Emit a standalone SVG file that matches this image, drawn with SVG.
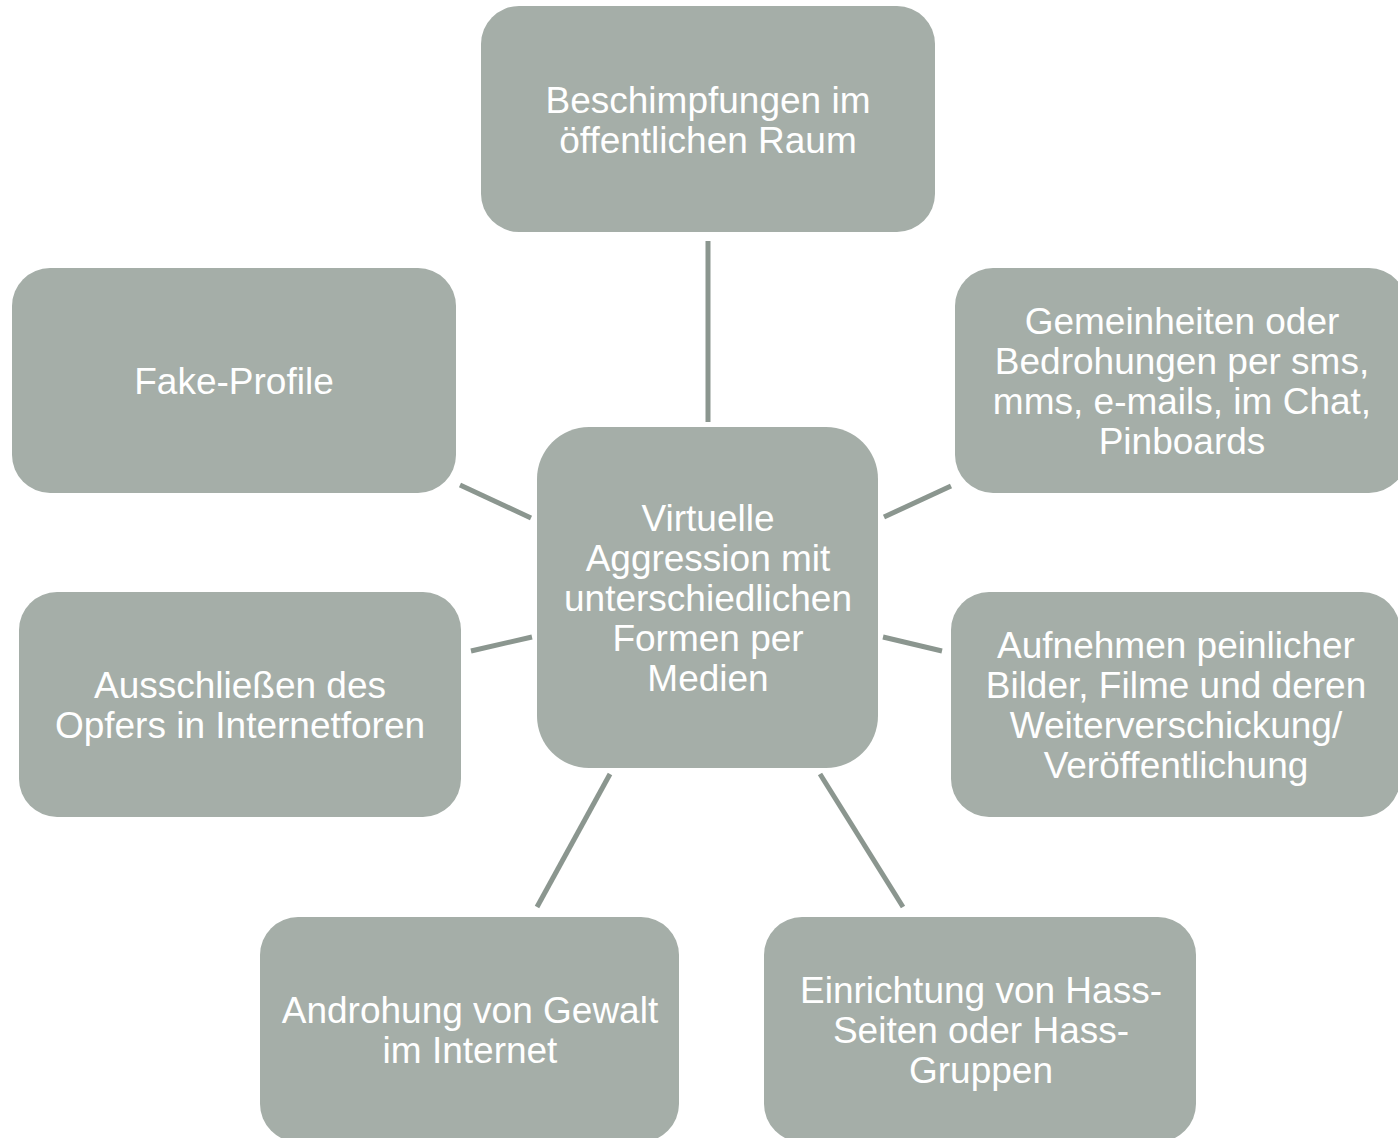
<svg xmlns="http://www.w3.org/2000/svg" width="1398" height="1138" viewBox="0 0 1398 1138">
<style>
.box{fill:#a5aea8;}
.lbl{font-family:"Liberation Sans",Arial,sans-serif;font-size:37px;fill:#ffffff;text-anchor:middle;}
.conn line{stroke:#8b968f;stroke-width:5;}
</style>
<rect width="1398" height="1138" fill="#ffffff"/>
<g id="connectors" class="conn">
<line x1="708" y1="241" x2="708" y2="422"/>
<line x1="460" y1="485" x2="531" y2="518"/>
<line x1="884" y1="517" x2="951" y2="486"/>
<line x1="471" y1="651" x2="532" y2="637"/>
<line x1="883" y1="637" x2="942" y2="651"/>
<line x1="610" y1="774" x2="537" y2="907"/>
<line x1="820" y1="774" x2="903" y2="907"/>
</g>
<g id="center">
<rect class="box" x="537" y="427" width="341" height="341" rx="52"/>
<text class="lbl" x="708" y="531">Virtuelle</text>
<text class="lbl" x="708" y="571">Aggression mit</text>
<text class="lbl" x="708" y="611">unterschiedlichen</text>
<text class="lbl" x="708" y="651">Formen per</text>
<text class="lbl" x="708" y="691">Medien</text>
</g>
<g id="n-top">
<rect class="box" x="481" y="6" width="454" height="226" rx="38"/>
<text class="lbl" x="708" y="113">Beschimpfungen im</text>
<text class="lbl" x="708" y="153">öffentlichen Raum</text>
</g>
<g id="n-fake">
<rect class="box" x="12" y="268" width="444" height="225" rx="38"/>
<text class="lbl" x="234" y="394">Fake-Profile</text>
</g>
<g id="n-gemein">
<rect class="box" x="955" y="268" width="452" height="225" rx="38"/>
<text class="lbl" x="1182" y="334">Gemeinheiten oder</text>
<text class="lbl" x="1182" y="374">Bedrohungen per sms,</text>
<text class="lbl" x="1182" y="414">mms, e-mails, im Chat,</text>
<text class="lbl" x="1182" y="454">Pinboards</text>
</g>
<g id="n-aussch">
<rect class="box" x="19" y="592" width="442" height="225" rx="38"/>
<text class="lbl" x="240" y="698">Ausschließen des</text>
<text class="lbl" x="240" y="738">Opfers in Internetforen</text>
</g>
<g id="n-aufn">
<rect class="box" x="951" y="592" width="449" height="225" rx="38"/>
<text class="lbl" x="1176" y="658">Aufnehmen peinlicher</text>
<text class="lbl" x="1176" y="698">Bilder, Filme und deren</text>
<text class="lbl" x="1176" y="738">Weiterverschickung/</text>
<text class="lbl" x="1176" y="778">Veröffentlichung</text>
</g>
<g id="n-andr">
<rect class="box" x="260" y="917" width="419" height="225" rx="38"/>
<text class="lbl" x="470" y="1023">Androhung von Gewalt</text>
<text class="lbl" x="470" y="1063">im Internet</text>
</g>
<g id="n-einr">
<rect class="box" x="764" y="917" width="432" height="225" rx="38"/>
<text class="lbl" x="981" y="1003">Einrichtung von Hass-</text>
<text class="lbl" x="981" y="1043">Seiten oder Hass-</text>
<text class="lbl" x="981" y="1083">Gruppen</text>
</g>
</svg>
